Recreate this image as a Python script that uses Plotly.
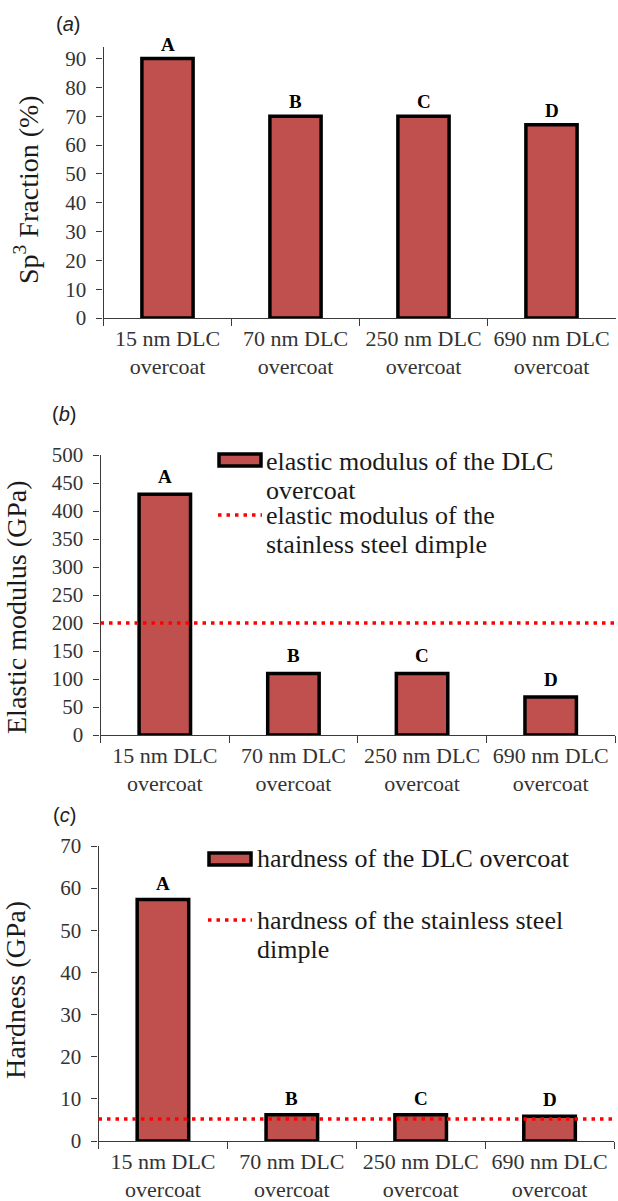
import plotly.graph_objects as go

# ---- data -------------------------------------------------------------
categories = ["15 nm DLC<br>overcoat", "70 nm DLC<br>overcoat",
              "250 nm DLC<br>overcoat", "690 nm DLC<br>overcoat"]
bar_letters = ["A", "B", "C", "D"]

sp3_fraction = [90, 70, 70, 67]          # %
elastic_modulus = [430, 110, 110, 68]    # GPa
hardness = [57.3, 6.2, 6.2, 5.9]         # GPa

steel_modulus = 200                      # GPa, stainless steel dimple
steel_hardness = 5.2                     # GPa, stainless steel dimple

sp3_ticks = [0, 10, 20, 30, 40, 50, 60, 70, 80, 90]
modulus_ticks = [0, 50, 100, 150, 200, 250, 300, 350, 400, 450, 500]
hardness_ticks = [0, 10, 20, 30, 40, 50, 60, 70]

# ---- styling ------------------------------------------------------------
W, H = 618, 1201
SERIF = "Liberation Serif"
SANS = "Liberation Sans"
BAR_FILL = "#C0504D"
AXIS_COL = "#3a3a3a"
TICK_COL = "#333333"


def fx(p):
    return p / W


def fy(p):
    return 1 - p / H


panels = [
    dict(values=sp3_fraction, ticks=sp3_ticks, yrange=[0, 94],
         x0=103.5, x1=615.5, top=47, bottom=318,
         title="Sp<sup>3</sup> Fraction (%)", title_x=26, title_y=190,
         tag="a", tag_x=68, tag_y=24, label_shift=2),
    dict(values=elastic_modulus, ticks=modulus_ticks, yrange=[0, 500],
         x0=100.5, x1=615, top=455, bottom=735,
         title="Elastic modulus (GPa)", title_x=16, title_y=607,
         tag="b", tag_x=64, tag_y=414, label_shift=5),
    dict(values=hardness, ticks=hardness_ticks, yrange=[0, 70],
         x0=98.5, x1=614, top=846, bottom=1141,
         title="Hardness (GPa)", title_x=16, title_y=990,
         tag="c", tag_x=64, tag_y=815, label_shift=4),
]

fig = go.Figure()
annotations = []
shapes = []
layout_axes = {}

for i, p in enumerate(panels, start=1):
    sfx = "" if i == 1 else str(i)
    xa, ya = "x" + sfx, "y" + sfx

    fig.add_trace(go.Bar(
        x=categories, y=p["values"], xaxis=xa, yaxis=ya,
        marker=dict(color=BAR_FILL, line=dict(color="black", width=3.5)),
        showlegend=False, hoverinfo="x+y",
    ))

    layout_axes["xaxis" + sfx] = dict(
        domain=[fx(p["x0"]), fx(p["x1"])], anchor=ya, automargin=False,
        type="category", range=[-0.5, 3.5], tickson="boundaries",
        tickangle=0,
        ticks="outside", ticklen=7, tickwidth=1.3, tickcolor=AXIS_COL,
        showline=True, linecolor=AXIS_COL, linewidth=1.3,
        showgrid=False, zeroline=False,
        tickfont=dict(family=SERIF, size=22, color=TICK_COL),
    )
    layout_axes["yaxis" + sfx] = dict(
        domain=[fy(p["bottom"]), fy(p["top"])], anchor=xa, automargin=False,
        range=p["yrange"], tickmode="array", tickvals=p["ticks"],
        ticks="outside", ticklen=6, tickwidth=1.3, tickcolor=AXIS_COL,
        showline=True, linecolor=AXIS_COL, linewidth=1.3,
        showgrid=False, zeroline=False, ticklabelstandoff=6,
        tickfont=dict(family=SERIF, size=21, color=TICK_COL),
    )

    # letters above the bars
    for cat, val, letter in zip(categories, p["values"], bar_letters):
        annotations.append(dict(
            x=cat, y=val, xref=xa, yref=ya, text="<b>%s</b>" % letter,
            showarrow=False, yanchor="bottom", yshift=p["label_shift"],
            font=dict(family=SERIF, size=19, color="black"),
        ))

    # y-axis title
    annotations.append(dict(
        x=fx(p["title_x"]), y=fy(p["title_y"]), xref="paper", yref="paper",
        text=p["title"], textangle=-90, showarrow=False,
        xanchor="center", yanchor="middle",
        font=dict(family=SERIF, size=28, color="#1a1a1a"),
    ))

    # panel tag
    annotations.append(dict(
        x=fx(p["tag_x"]), y=fy(p["tag_y"]), xref="paper", yref="paper",
        text="(<i>%s</i>)" % p["tag"], showarrow=False,
        xanchor="center", yanchor="middle",
        font=dict(family=SANS, size=20, color="#222222"),
    ))

# reference levels of the stainless steel dimple
for sfx, level in (("2", steel_modulus), ("3", steel_hardness)):
    shapes.append(dict(
        type="line", xref="x%s domain" % sfx, yref="y" + sfx,
        x0=0, x1=1, y0=level, y1=level, layer="above",
        line=dict(color="#FF0000", width=3.5, dash="3.5px,5px"),
    ))

# legends (swatch + wrapped text lines)
legend_font = dict(family=SERIF, size=26, color="#1a1a1a")


def legend_bar(x0, x1, yc):
    shapes.append(dict(
        type="rect", xref="paper", yref="paper",
        x0=fx(x0), x1=fx(x1), y0=fy(yc + 6), y1=fy(yc - 6),
        fillcolor=BAR_FILL, line=dict(color="black", width=3.5),
    ))


def legend_dots(x0, x1, yc):
    shapes.append(dict(
        type="line", xref="paper", yref="paper",
        x0=fx(x0), x1=fx(x1), y0=fy(yc), y1=fy(yc),
        line=dict(color="#FF0000", width=3.5, dash="3.5px,5px"),
    ))


def legend_text(x, yc, txt):
    annotations.append(dict(
        x=fx(x), y=fy(yc), xref="paper", yref="paper", text=txt,
        showarrow=False, xanchor="left", yanchor="middle", font=legend_font,
    ))


legend_bar(219, 261, 460)
legend_text(264, 462, "elastic modulus of the DLC")
legend_text(264, 490, "overcoat")
legend_dots(218, 262, 515)
legend_text(264, 516, "elastic modulus of the")
legend_text(264, 544, "stainless steel dimple")

legend_bar(209, 251, 859)
legend_text(255, 858, "hardness of the DLC overcoat")
legend_dots(208, 252, 920)
legend_text(255, 920, "hardness of the stainless steel")
legend_text(255, 949, "dimple")

fig.update_layout(
    width=W, height=H, margin=dict(l=0, r=0, t=0, b=0, autoexpand=False),
    paper_bgcolor="white", plot_bgcolor="white",
    bargap=0.6, showlegend=False,
    annotations=annotations, shapes=shapes,
    **layout_axes,
)

fig.write_html("out.html")
